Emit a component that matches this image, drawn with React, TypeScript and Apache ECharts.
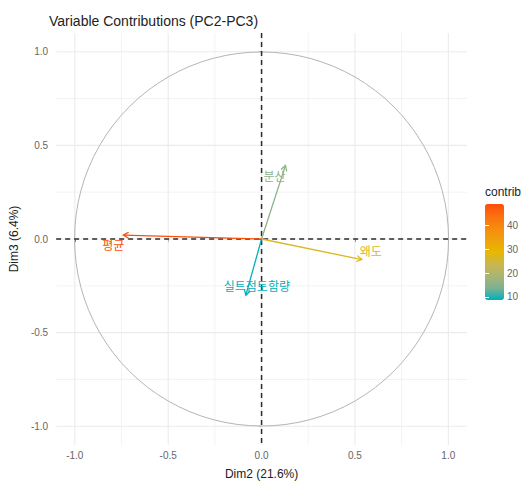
import React, { useEffect, useRef } from 'react';
import * as echarts from 'echarts';

// ---- data ----
const variables = ['평균', '분산', '왜도', '실트점토함량'];
const dim2 = [-0.74, 0.128, 0.537, -0.084];
const dim3 = [0.021, 0.393, -0.11, -0.3];
const contrib = [49.1, 15.3, 26.9, 8.7];
const axisTicks = [-1, -0.5, 0, 0.5, 1];
const minorGrid = [-0.75, -0.25, 0.25, 0.75];
const legendTicks = [10, 20, 30, 40];
// teal -> yellow -> red gradient, sampled with Lab-space interpolation (as ggplot does)
const gradientColors = [
  '#00AFBB',
  '#7EB193',
  '#AAB472',
  '#CBB64C',
  '#E7B800',
  '#EFA20C',
  '#F58B0E',
  '#FA7110',
  '#FC4E07',
];

// label placement offsets (pixels, relative to arrow tip)
const labelOffsets = [
  [-10, 9],
  [-11, 10],
  [9, -9],
  [11, -10],
];

const FONT = "'Liberation Sans', Arial, 'Noto Sans CJK KR', sans-serif";
const KFONT = "'Noto Sans CJK KR', 'Liberation Sans', sans-serif";

export default function App() {
  const ref = useRef<HTMLDivElement>(null);

  useEffect(() => {
    document.body.style.margin = '0';
    if (!ref.current) return;
    const chart = echarts.init(ref.current, undefined, { renderer: 'svg' });

    const cMin = Math.min(...contrib);
    const cMax = Math.max(...contrib);

    // grid line rows: [value, orientation (0 vertical / 1 horizontal), minor flag]
    const gridRows: number[][] = [];
    axisTicks.forEach((v) => {
      gridRows.push([v, 0, 0]);
      gridRows.push([v, 1, 0]);
    });
    minorGrid.forEach((v) => {
      gridRows.push([v, 0, 1]);
      gridRows.push([v, 1, 1]);
    });

    const arrowData = variables.map((n, i) => ({ name: n, value: [dim2[i], dim3[i], contrib[i]] }));

    const fmt = (v: number) => (Math.abs(v) < 1e-9 ? '0.0' : v.toFixed(1));

    const option: any = {
      animation: false,
      textStyle: { fontFamily: FONT },
      title: {
        text: 'Variable Contributions (PC2-PC3)',
        left: 49,
        top: 14,
        padding: 0,
        textStyle: { fontSize: 14, fontWeight: 'normal', color: '#222', fontFamily: FONT },
      },
      graphic: [
        {
          type: 'text',
          left: 485,
          top: 186,
          style: { text: 'contrib', fontSize: 12, fill: '#222', fontFamily: FONT },
        },
      ],
      grid: [
        { left: 51, right: 54, top: 33, bottom: 33 },
        { left: 485, top: 204, width: 19, height: 96 },
      ],
      xAxis: [
        {
          type: 'value',
          gridIndex: 0,
          min: -1.1,
          max: 1.1,
          name: 'Dim2 (21.6%)',
          nameLocation: 'middle',
          nameGap: 23,
          nameTextStyle: { fontSize: 12, color: '#222', fontFamily: FONT },
          axisLine: { show: false },
          axisTick: { show: true, customValues: axisTicks, length: 3, lineStyle: { color: '#333' } },
          axisLabel: {
            customValues: axisTicks,
            formatter: fmt,
            fontSize: 10,
            color: '#666',
            margin: 6,
            fontFamily: FONT,
          },
          splitLine: { show: false },
        },
        { type: 'value', gridIndex: 1, show: false, min: 0, max: 1 },
      ],
      yAxis: [
        {
          type: 'value',
          gridIndex: 0,
          min: -1.1,
          max: 1.1,
          name: 'Dim3 (6.4%)',
          nameLocation: 'middle',
          nameGap: 28,
          nameTextStyle: { fontSize: 12, color: '#222', fontFamily: FONT },
          axisLine: { show: false },
          axisTick: { show: true, customValues: axisTicks, length: 3, lineStyle: { color: '#333' } },
          axisLabel: {
            customValues: axisTicks,
            formatter: fmt,
            fontSize: 10,
            color: '#666',
            margin: 8,
            fontFamily: FONT,
          },
          splitLine: { show: false },
        },
        {
          type: 'value',
          gridIndex: 1,
          min: cMin,
          max: cMax,
          position: 'right',
          z: 10,
          axisLine: { show: false },
          axisTick: {
            show: true,
            inside: true,
            length: 4,
            customValues: legendTicks,
            lineStyle: { color: '#ffffff', width: 1 },
          },
          axisLabel: {
            customValues: legendTicks,
            fontSize: 10,
            color: '#666',
            margin: 6,
            fontFamily: FONT,
          },
          splitLine: { show: false },
        },
        {
          type: 'value',
          gridIndex: 1,
          min: cMin,
          max: cMax,
          position: 'left',
          z: 10,
          axisLine: { show: false },
          axisTick: {
            show: true,
            inside: true,
            length: 4,
            customValues: legendTicks,
            lineStyle: { color: '#ffffff', width: 1 },
          },
          axisLabel: { show: false },
          splitLine: { show: false },
        },
      ],
      visualMap: {
        type: 'continuous',
        min: cMin,
        max: cMax,
        dimension: 2,
        seriesIndex: 3,
        left: 485,
        top: 204,
        padding: 0,
        itemWidth: 19,
        itemHeight: 96,
        calculable: false,
        hoverLink: false,
        text: null,
        inRange: { color: gradientColors },
      },
      series: [
        {
          // grid lines
          type: 'custom',
          xAxisIndex: 0,
          yAxisIndex: 0,
          silent: true,
          z: 1,
          data: gridRows,
          renderItem: (params: any, api: any) => {
            const v = api.value(0);
            const orient = api.value(1);
            const minor = api.value(2);
            const cs = params.coordSys;
            const style = { stroke: '#ebebeb', lineWidth: minor ? 0.6 : 1.1 };
            if (orient === 0) {
              const x = api.coord([v, 0])[0];
              return { type: 'line', shape: { x1: x, y1: cs.y, x2: x, y2: cs.y + cs.height }, style };
            }
            const y = api.coord([0, v])[1];
            return { type: 'line', shape: { x1: cs.x, y1: y, x2: cs.x + cs.width, y2: y }, style };
          },
        },
        {
          // correlation circle
          type: 'custom',
          xAxisIndex: 0,
          yAxisIndex: 0,
          silent: true,
          z: 2,
          data: [[0, 0, 1]],
          renderItem: (params: any, api: any) => {
            const c = api.coord([api.value(0), api.value(1)]);
            const s = api.size([api.value(2), api.value(2)]);
            return {
              type: 'circle',
              shape: { cx: c[0], cy: c[1], r: (s[0] + s[1]) / 2 },
              style: { stroke: '#b5b5b5', lineWidth: 1, fill: 'none' },
            };
          },
        },
        {
          // zero reference lines (dashed)
          type: 'custom',
          xAxisIndex: 0,
          yAxisIndex: 0,
          silent: true,
          z: 3,
          data: [
            [0, 0],
            [0, 1],
          ],
          renderItem: (params: any, api: any) => {
            const v = api.value(0);
            const orient = api.value(1);
            const cs = params.coordSys;
            const style = { stroke: '#2b2b2b', lineWidth: 1.5, lineDash: [5, 4], fill: 'none' };
            if (orient === 0) {
              const x = api.coord([v, 0])[0];
              return { type: 'line', shape: { x1: x, y1: cs.y, x2: x, y2: cs.y + cs.height }, style };
            }
            const y = api.coord([0, v])[1];
            return { type: 'line', shape: { x1: cs.x, y1: y, x2: cs.x + cs.width, y2: y }, style };
          },
        },
        {
          // variable arrows
          type: 'custom',
          xAxisIndex: 0,
          yAxisIndex: 0,
          silent: true,
          z: 4,
          data: arrowData,
          renderItem: (params: any, api: any) => {
            const idx = params.dataIndex;
            const p0 = api.coord([0, 0]);
            const p1 = api.coord([api.value(0), api.value(1)]);
            const color = api.visual('color');
            const ang = Math.atan2(p1[1] - p0[1], p1[0] - p0[0]);
            const L = 6;
            const A = Math.PI / 6;
            const h1 = [p1[0] - L * Math.cos(ang - A), p1[1] - L * Math.sin(ang - A)];
            const h2 = [p1[0] - L * Math.cos(ang + A), p1[1] - L * Math.sin(ang + A)];
            const off = labelOffsets[idx];
            return {
              type: 'group',
              children: [
                {
                  type: 'line',
                  shape: { x1: p0[0], y1: p0[1], x2: p1[0], y2: p1[1] },
                  style: { stroke: color, lineWidth: 1.3 },
                },
                {
                  type: 'polyline',
                  shape: { points: [h1, p1, h2] },
                  style: { stroke: color, lineWidth: 1.3, fill: 'none' },
                },
                {
                  type: 'text',
                  x: p1[0] + off[0],
                  y: p1[1] + off[1],
                  style: {
                    text: variables[idx],
                    fill: color,
                    fontSize: 12,
                    fontFamily: KFONT,
                    align: 'center',
                    verticalAlign: 'middle',
                  },
                },
              ],
            };
          },
        },
      ],
    };

    chart.setOption(option);
    return () => chart.dispose();
  }, []);

  return <div ref={ref} style={{ width: 521, height: 485 }} />;
}
